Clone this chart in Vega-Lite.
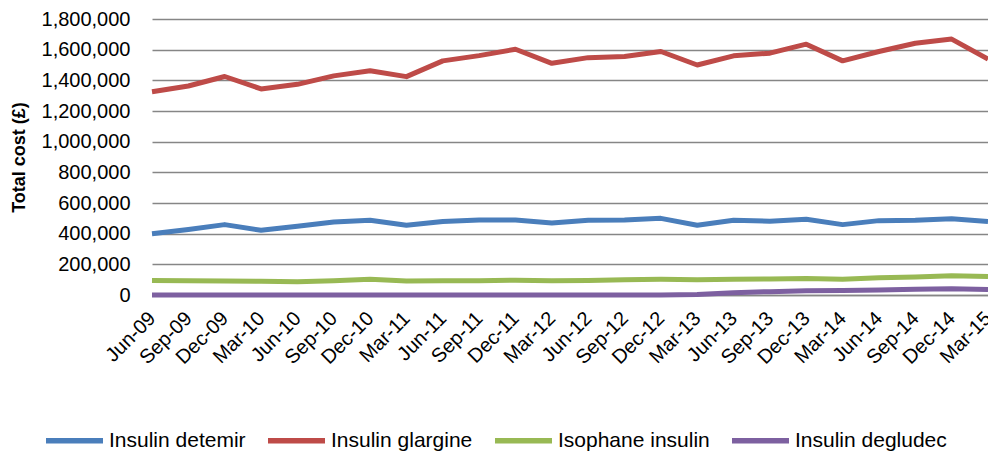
{
  "$schema": "https://vega.github.io/schema/vega-lite/v6.json",
  "width": 836,
  "height": 276,
  "autosize": {"type": "none"},
  "padding": {"left": 152, "top": 19, "right": 0, "bottom": 160},
  "background": "white",
  "config": {
    "font": "Liberation Sans",
    "view": {"stroke": null}
  },
  "datasets": {
    "costs": [
      {"quarter": "Jun-09", "series": "Insulin detemir", "cost": 400000},
      {"quarter": "Sep-09", "series": "Insulin detemir", "cost": 427000},
      {"quarter": "Dec-09", "series": "Insulin detemir", "cost": 459000},
      {"quarter": "Mar-10", "series": "Insulin detemir", "cost": 422000},
      {"quarter": "Jun-10", "series": "Insulin detemir", "cost": 448000},
      {"quarter": "Sep-10", "series": "Insulin detemir", "cost": 476000},
      {"quarter": "Dec-10", "series": "Insulin detemir", "cost": 487000},
      {"quarter": "Mar-11", "series": "Insulin detemir", "cost": 455000},
      {"quarter": "Jun-11", "series": "Insulin detemir", "cost": 479000},
      {"quarter": "Sep-11", "series": "Insulin detemir", "cost": 489000},
      {"quarter": "Dec-11", "series": "Insulin detemir", "cost": 489000},
      {"quarter": "Mar-12", "series": "Insulin detemir", "cost": 470000},
      {"quarter": "Jun-12", "series": "Insulin detemir", "cost": 487000},
      {"quarter": "Sep-12", "series": "Insulin detemir", "cost": 489000},
      {"quarter": "Dec-12", "series": "Insulin detemir", "cost": 500000},
      {"quarter": "Mar-13", "series": "Insulin detemir", "cost": 455000},
      {"quarter": "Jun-13", "series": "Insulin detemir", "cost": 487000},
      {"quarter": "Sep-13", "series": "Insulin detemir", "cost": 481000},
      {"quarter": "Dec-13", "series": "Insulin detemir", "cost": 494000},
      {"quarter": "Mar-14", "series": "Insulin detemir", "cost": 459000},
      {"quarter": "Jun-14", "series": "Insulin detemir", "cost": 485000},
      {"quarter": "Sep-14", "series": "Insulin detemir", "cost": 487000},
      {"quarter": "Dec-14", "series": "Insulin detemir", "cost": 498000},
      {"quarter": "Mar-15", "series": "Insulin detemir", "cost": 479000},
      {"quarter": "Jun-09", "series": "Insulin glargine", "cost": 1326000},
      {"quarter": "Sep-09", "series": "Insulin glargine", "cost": 1363000},
      {"quarter": "Dec-09", "series": "Insulin glargine", "cost": 1425000},
      {"quarter": "Mar-10", "series": "Insulin glargine", "cost": 1344000},
      {"quarter": "Jun-10", "series": "Insulin glargine", "cost": 1374000},
      {"quarter": "Sep-10", "series": "Insulin glargine", "cost": 1429000},
      {"quarter": "Dec-10", "series": "Insulin glargine", "cost": 1463000},
      {"quarter": "Mar-11", "series": "Insulin glargine", "cost": 1424000},
      {"quarter": "Jun-11", "series": "Insulin glargine", "cost": 1527000},
      {"quarter": "Sep-11", "series": "Insulin glargine", "cost": 1561000},
      {"quarter": "Dec-11", "series": "Insulin glargine", "cost": 1603000},
      {"quarter": "Mar-12", "series": "Insulin glargine", "cost": 1511000},
      {"quarter": "Jun-12", "series": "Insulin glargine", "cost": 1548000},
      {"quarter": "Sep-12", "series": "Insulin glargine", "cost": 1555000},
      {"quarter": "Dec-12", "series": "Insulin glargine", "cost": 1588000},
      {"quarter": "Mar-13", "series": "Insulin glargine", "cost": 1500000},
      {"quarter": "Jun-13", "series": "Insulin glargine", "cost": 1560000},
      {"quarter": "Sep-13", "series": "Insulin glargine", "cost": 1577000},
      {"quarter": "Dec-13", "series": "Insulin glargine", "cost": 1636000},
      {"quarter": "Mar-14", "series": "Insulin glargine", "cost": 1527000},
      {"quarter": "Jun-14", "series": "Insulin glargine", "cost": 1588000},
      {"quarter": "Sep-14", "series": "Insulin glargine", "cost": 1642000},
      {"quarter": "Dec-14", "series": "Insulin glargine", "cost": 1669000},
      {"quarter": "Mar-15", "series": "Insulin glargine", "cost": 1538000},
      {"quarter": "Jun-09", "series": "Isophane insulin", "cost": 95000},
      {"quarter": "Sep-09", "series": "Isophane insulin", "cost": 93000},
      {"quarter": "Dec-09", "series": "Isophane insulin", "cost": 92000},
      {"quarter": "Mar-10", "series": "Isophane insulin", "cost": 89000},
      {"quarter": "Jun-10", "series": "Isophane insulin", "cost": 87000},
      {"quarter": "Sep-10", "series": "Isophane insulin", "cost": 93000},
      {"quarter": "Dec-10", "series": "Isophane insulin", "cost": 102000},
      {"quarter": "Mar-11", "series": "Isophane insulin", "cost": 92000},
      {"quarter": "Jun-11", "series": "Isophane insulin", "cost": 93000},
      {"quarter": "Sep-11", "series": "Isophane insulin", "cost": 93000},
      {"quarter": "Dec-11", "series": "Isophane insulin", "cost": 96000},
      {"quarter": "Mar-12", "series": "Isophane insulin", "cost": 93000},
      {"quarter": "Jun-12", "series": "Isophane insulin", "cost": 95000},
      {"quarter": "Sep-12", "series": "Isophane insulin", "cost": 99000},
      {"quarter": "Dec-12", "series": "Isophane insulin", "cost": 102000},
      {"quarter": "Mar-13", "series": "Isophane insulin", "cost": 100000},
      {"quarter": "Jun-13", "series": "Isophane insulin", "cost": 103000},
      {"quarter": "Sep-13", "series": "Isophane insulin", "cost": 105000},
      {"quarter": "Dec-13", "series": "Isophane insulin", "cost": 107000},
      {"quarter": "Mar-14", "series": "Isophane insulin", "cost": 103000},
      {"quarter": "Jun-14", "series": "Isophane insulin", "cost": 112000},
      {"quarter": "Sep-14", "series": "Isophane insulin", "cost": 118000},
      {"quarter": "Dec-14", "series": "Isophane insulin", "cost": 125000},
      {"quarter": "Mar-15", "series": "Isophane insulin", "cost": 120000},
      {"quarter": "Jun-09", "series": "Insulin degludec", "cost": 0},
      {"quarter": "Sep-09", "series": "Insulin degludec", "cost": 0},
      {"quarter": "Dec-09", "series": "Insulin degludec", "cost": 0},
      {"quarter": "Mar-10", "series": "Insulin degludec", "cost": 0},
      {"quarter": "Jun-10", "series": "Insulin degludec", "cost": 0},
      {"quarter": "Sep-10", "series": "Insulin degludec", "cost": 0},
      {"quarter": "Dec-10", "series": "Insulin degludec", "cost": 0},
      {"quarter": "Mar-11", "series": "Insulin degludec", "cost": 0},
      {"quarter": "Jun-11", "series": "Insulin degludec", "cost": 0},
      {"quarter": "Sep-11", "series": "Insulin degludec", "cost": 0},
      {"quarter": "Dec-11", "series": "Insulin degludec", "cost": 0},
      {"quarter": "Mar-12", "series": "Insulin degludec", "cost": 0},
      {"quarter": "Jun-12", "series": "Insulin degludec", "cost": 0},
      {"quarter": "Sep-12", "series": "Insulin degludec", "cost": 0},
      {"quarter": "Dec-12", "series": "Insulin degludec", "cost": 0},
      {"quarter": "Mar-13", "series": "Insulin degludec", "cost": 3000},
      {"quarter": "Jun-13", "series": "Insulin degludec", "cost": 15000},
      {"quarter": "Sep-13", "series": "Insulin degludec", "cost": 22000},
      {"quarter": "Dec-13", "series": "Insulin degludec", "cost": 27000},
      {"quarter": "Mar-14", "series": "Insulin degludec", "cost": 29000},
      {"quarter": "Jun-14", "series": "Insulin degludec", "cost": 33000},
      {"quarter": "Sep-14", "series": "Insulin degludec", "cost": 38000},
      {"quarter": "Dec-14", "series": "Insulin degludec", "cost": 41000},
      {"quarter": "Mar-15", "series": "Insulin degludec", "cost": 36000}
    ]
  },
  "data": {"name": "costs"},
  "mark": {"type": "line", "strokeWidth": 5, "strokeJoin": "round", "strokeCap": "butt"},
  "encoding": {
    "x": {
      "field": "quarter",
      "type": "ordinal",
      "sort": null,
      "scale": {"type": "point", "padding": 0},
      "axis": {
        "title": null,
        "labelAngle": -45,
        "labelAlign": "right",
        "labelBaseline": "middle",
        "labelFontSize": 20,
        "labelColor": "#000000",
        "labelPadding": 20,
        "labelDx": 15,
        "labelDy": 15,
        "ticks": false,
        "domain": true,
        "domainColor": "#868686",
        "domainWidth": 1.5,
        "grid": false,
        "labelOverlap": false,
        "labelBound": false
      }
    },
    "y": {
      "field": "cost",
      "type": "quantitative",
      "scale": {"domain": [0, 1800000], "nice": false},
      "axis": {
        "title": "Total cost (£)",
        "titleFontSize": 18,
        "titleFontWeight": "bold",
        "titleColor": "#000000",
        "titlePadding": 13,
        "values": [0, 200000, 400000, 600000, 800000, 1000000, 1200000, 1400000, 1600000, 1800000],
        "format": ",d",
        "labelFontSize": 20,
        "labelColor": "#000000",
        "labelPadding": 22,
        "ticks": false,
        "domain": false,
        "grid": true,
        "gridColor": "#868686",
        "gridWidth": 1.5
      }
    },
    "color": {
      "field": "series",
      "type": "nominal",
      "sort": ["Insulin detemir", "Insulin glargine", "Isophane insulin", "Insulin degludec"],
      "scale": {
        "domain": ["Insulin detemir", "Insulin glargine", "Isophane insulin", "Insulin degludec"],
        "range": ["#4A7EBB", "#BE4B48", "#98B954", "#7D60A0"]
      },
      "legend": {
        "title": null,
        "orient": "none",
        "direction": "horizontal",
        "legendX": -109,
        "legendY": 390,
        "symbolType": "stroke",
        "symbolSize": 3249,
        "symbolStrokeWidth": 5.5,
        "labelFontSize": 21,
        "labelColor": "#000000",
        "labelOffset": 3,
        "columnPadding": 11,
        "labelLimit": 300
      }
    }
  }
}
